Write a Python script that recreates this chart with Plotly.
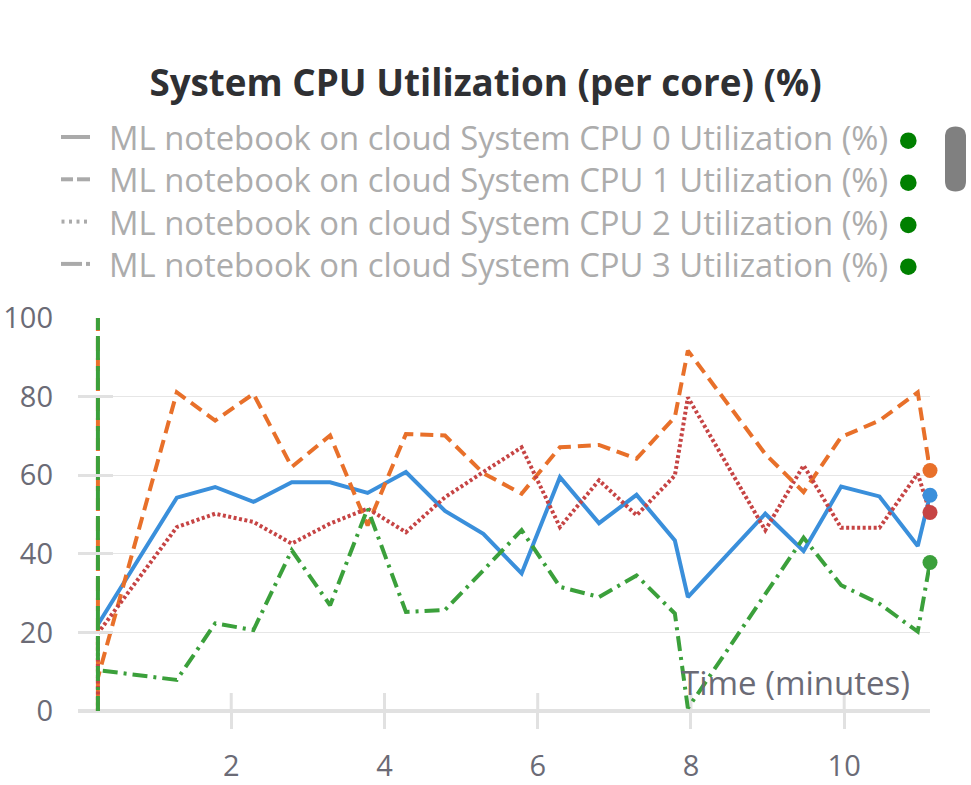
import plotly.graph_objects as go

# ---------------- data ----------------
time_min = [0.26, 1.29, 1.79, 2.29, 2.79, 3.29, 3.78, 4.28, 4.79, 5.29, 5.79,
            6.29, 6.80, 7.29, 7.79, 7.96, 8.97, 9.47, 9.96, 10.46, 10.96, 11.12]
cpu0 = [22.0, 54.3, 57.0, 53.2, 58.2, 58.2, 55.5, 60.8, 50.9, 45.1, 35.0,
        59.5, 47.8, 55.0, 43.4, 29.0, 50.2, 40.7, 57.1, 54.6, 42.0, 54.9]
cpu1 = [8.5, 81.1, 73.9, 80.7, 62.1, 70.1, 47.2, 70.5, 70.1, 60.5, 55.3,
        67.1, 67.7, 64.2, 74.8, 91.7, 65.4, 55.7, 69.7, 73.9, 81.1, 61.2]
cpu2 = [19.8, 46.8, 50.2, 48.1, 42.6, 47.7, 51.5, 45.5, 54.4, 60.8, 67.1,
        46.8, 58.7, 49.8, 59.9, 79.8, 46.0, 62.5, 46.6, 46.6, 60.4, 50.5]
cpu3 = [10.4, 7.9, 22.3, 20.6, 40.9, 26.9, 51.5, 25.2, 25.7, 35.8, 46.0,
        31.6, 29.0, 34.5, 24.8, 0.7, 29.7, 44.1, 32.0, 27.3, 20.2, 37.8]
# initial vertical spikes at the first timestamp
spike0 = []
spike1 = [100, 0]
spike2 = [0]
spike3 = [0, 100]

series_names = [
    "ML notebook on cloud System CPU 0 Utilization (%)",
    "ML notebook on cloud System CPU 1 Utilization (%)",
    "ML notebook on cloud System CPU 2 Utilization (%)",
    "ML notebook on cloud System CPU 3 Utilization (%)",
]
x_ticks = [2, 4, 6, 8, 10]
y_ticks = [0, 20, 40, 60, 80, 100]
title_text = "System CPU Utilization (per core) (%)"
x_title = "Time (minutes)"

# ---------------- style ----------------
W, H = 971, 785
L, R, T, B = 78, 41, 318, 74
PW, PH = W - L - R, H - T - B
FONT = "Open Sans"
TICK_COLOR = "#6b6b76"
LEG_COLOR = "#acacac"
GRID = "#e6e6e6"
AXIS = "#e1e1e1"

colors = ["#3a8fdb", "#e8702a", "#c64444", "#3ba03b"]
dashes = ["solid", "13px,7px", "3px,2.5px", "15px,6px,3px,6px"]
values = [cpu0, cpu1, cpu2, cpu3]
spikes = [spike0, spike1, spike2, spike3]


def px_x(px):
    return (px - L) / PW


def px_y(py):
    return (H - B - py) / PH


fig = go.Figure()
for vals, sp, col, dsh in zip(values, spikes, colors, dashes):
    xs = [time_min[0]] * len(sp) + time_min
    ys = sp + vals
    fig.add_trace(go.Scatter(x=xs, y=ys, mode="lines",
                             line=dict(color=col, width=4, dash=dsh),
                             showlegend=False, hoverinfo="skip"))
for vals, col in zip(values, colors):
    fig.add_trace(go.Scatter(x=[time_min[-1]], y=[vals[-1]], mode="markers",
                             marker=dict(color=col, size=15),
                             cliponaxis=False, showlegend=False, hoverinfo="skip"))

shapes = []
# x axis line
shapes.append(dict(type="line", xref="paper", yref="paper", x0=0, x1=1, y0=0, y1=0,
                   line=dict(color=AXIS, width=4), layer="between"))
# inner part of x ticks
for xv in x_ticks:
    shapes.append(dict(type="line", xref="x", yref="paper", x0=xv, x1=xv,
                       y0=0, y1=18 / PH, line=dict(color=AXIS, width=3), layer="between"))

# legend glyphs (gray)
row_y = [137.5, 179.8, 222.1, 264.4]
dot_y = [140.7, 182.7, 225.0, 266.7]
glyph_segments = [
    [(61, 90)],
    [(61, 73), (77, 90)],
    [(61.5, 64.5), (69, 72), (76.5, 79.5), (84, 87)],
    [(61, 82), (86, 90)],
]
for ry, segs in zip(row_y, glyph_segments):
    for a, b in segs:
        shapes.append(dict(type="rect", xref="paper", yref="paper",
                           x0=px_x(a), x1=px_x(b), y0=px_y(ry - 0.5 + 2), y1=px_y(ry - 0.5 - 2),
                           fillcolor="#aaaaaa", line=dict(width=0)))
# green status dots
for dy in dot_y:
    shapes.append(dict(type="circle", xref="paper", yref="paper",
                       xsizemode="pixel", ysizemode="pixel",
                       xanchor=px_x(908.3), yanchor=px_y(dy),
                       x0=-8.3, x1=8.3, y0=-8.3, y1=8.3,
                       fillcolor="#008000", line=dict(width=0)))
# scrollbar
r = 10.5
hh = 32.5
path = (f"M {-r},{hh - r} L {-r},{-(hh - r)} Q {-r},{-hh} 0,{-hh} Q {r},{-hh} {r},{-(hh - r)} "
        f"L {r},{hh - r} Q {r},{hh} 0,{hh} Q {-r},{hh} {-r},{hh - r} Z")
shapes.append(dict(type="path", xref="paper", yref="paper",
                   xsizemode="pixel", ysizemode="pixel",
                   xanchor=px_x(955.5), yanchor=px_y(159), path=path,
                   fillcolor="#808080", line=dict(width=0)))

annotations = []
for ry, name in zip(row_y, series_names):
    annotations.append(dict(text=name, xref="paper", yref="paper", x=px_x(107), y=px_y(ry),
                            xanchor="left", yanchor="middle", showarrow=False,
                            font=dict(family=FONT, size=32.8, color=LEG_COLOR)))
annotations.append(dict(text=x_title, xref="paper", yref="paper", x=px_x(912), y=px_y(682),
                        xanchor="right", yanchor="middle", showarrow=False,
                        font=dict(family=FONT, size=33, color=TICK_COLOR)))

fig.update_layout(
    width=W, height=H,
    margin=dict(l=L, r=R, t=T, b=B, pad=0),
    paper_bgcolor="white", plot_bgcolor="white",
    title=dict(text=title_text, x=0.5, xanchor="center", xref="container",
               y=1 - 83 / H, yanchor="middle", yref="container",
               font=dict(family=FONT, size=36.8, color="#2f3033", weight="bold")),
    xaxis=dict(range=[0, time_min[-1]], tickvals=x_ticks, ticktext=[str(v) for v in x_ticks],
               showgrid=False, zeroline=False, showline=False, automargin=False,
               ticks="outside", ticklen=17, tickwidth=3, tickcolor=AXIS,
               ticklabelstandoff=12,
               tickfont=dict(family=FONT, size=29, color=TICK_COLOR)),
    yaxis=dict(range=[0, 100], tickvals=y_ticks, showgrid=True, gridcolor=GRID, gridwidth=1,
               zeroline=False, showline=False, automargin=False,
               ticks="inside", ticklen=35, tickwidth=3, tickcolor=AXIS,
               ticklabelstandoff=24,
               tickfont=dict(family=FONT, size=29, color=TICK_COLOR)),
    shapes=shapes,
    annotations=annotations,
    showlegend=False,
)

fig.write_html("out.html")
